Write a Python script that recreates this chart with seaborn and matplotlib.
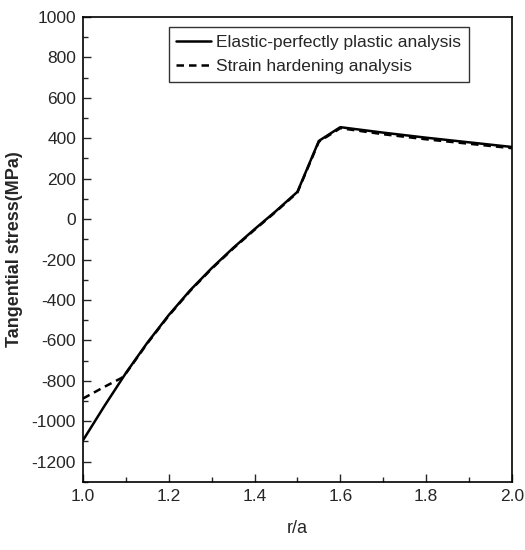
import matplotlib
matplotlib.use("Agg")
import matplotlib.pyplot as plt
from matplotlib.ticker import MultipleLocator, FormatStrFormatter
import seaborn as sns
import pandas as pd

# Radius ratio r/a and tangential stress (MPa)
r_perfect = [1.00, 1.05, 1.10, 1.15, 1.20, 1.25, 1.30, 1.35, 1.40, 1.45, 1.50,
             1.55, 1.60, 1.70, 1.80, 1.90, 2.00]
s_perfect = [-1095, -925, -762, -612, -475, -352, -243, -143, -50, 40, 135,
             387, 455, 428, 403, 380, 357]

r_hardening = [1.00, 1.05, 1.09, 1.10, 1.15, 1.20, 1.25, 1.30, 1.35, 1.40, 1.45, 1.50,
               1.55, 1.60, 1.70, 1.80, 1.90, 2.00]
s_hardening = [-888, -830, -786, -764, -615, -478, -355, -246, -146, -53, 37, 132,
               383, 450, 420, 395, 373, 351]

label_perfect = "Elastic-perfectly plastic analysis"
label_hardening = "Strain hardening analysis"

sns.set_style("ticks")
plt.rcParams["font.family"] = ["Liberation Sans", "DejaVu Sans"]
plt.rcParams["axes.unicode_minus"] = False

df = pd.concat([
    pd.DataFrame({"r": r_perfect, "stress": s_perfect, "model": label_perfect}),
    pd.DataFrame({"r": r_hardening, "stress": s_hardening, "model": label_hardening}),
])

fig = plt.figure(figsize=(5.25, 5.5), dpi=100)
ax = fig.add_axes([0.158, 0.124, 0.817, 0.845])

sns.lineplot(data=df, x="r", y="stress", hue="model", style="model",
             palette=["black", "black"],
             dashes={label_perfect: "", label_hardening: (3, 2)},
             linewidth=1.8, sort=False, estimator=None, ax=ax)

ax.set_xlim(1.0, 2.0)
ax.set_ylim(-1300, 1000)
ax.xaxis.set_major_locator(MultipleLocator(0.2))
ax.xaxis.set_minor_locator(MultipleLocator(0.1))
ax.yaxis.set_major_locator(MultipleLocator(200))
ax.yaxis.set_minor_locator(MultipleLocator(100))
ax.xaxis.set_major_formatter(FormatStrFormatter("%.1f"))
ax.tick_params(which="major", direction="in", length=6, width=1.0,
               labelsize=12.5, top=False, right=False, pad=5)
ax.tick_params(which="minor", direction="in", length=3.5, width=1.0,
               top=False, right=False)
for sp in ax.spines.values():
    sp.set_visible(True)
    sp.set_linewidth(1.2)
    sp.set_color("black")

ax.set_xlabel("r/a", fontsize=13, labelpad=12)
ax.set_ylabel("Tangential stress(MPa)", fontsize=13, fontweight="bold", labelpad=6)

leg = ax.legend(loc="upper center", bbox_to_anchor=(0.55, 0.978), fontsize=12.5,
                frameon=True, fancybox=False, edgecolor="black",
                handlelength=2.0, handletextpad=0.3, borderpad=0.45,
                labelspacing=0.5, borderaxespad=0)
leg.get_frame().set_linewidth(1.0)
leg.set_title(None)

fig.savefig("out.png", dpi=100)
